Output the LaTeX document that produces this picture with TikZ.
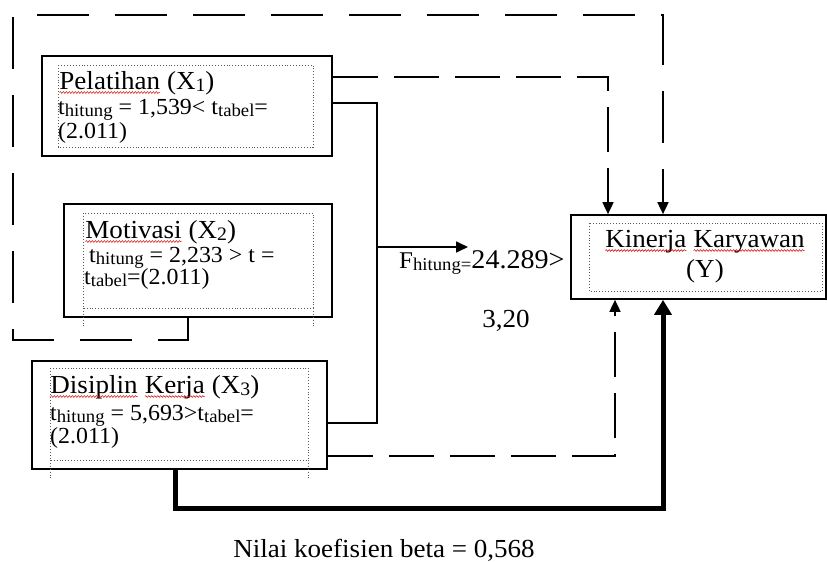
\documentclass[tikz,border=0pt]{standalone}
\usepackage{fontspec}
\setmainfont{Liberation Serif}[FakeStretch=1.04]
\usetikzlibrary{arrows.meta,calc,decorations.pathmorphing}
\newcommand\rw[1]{\tikz[baseline=(wd.base)]{\node[anchor=base,inner sep=0pt,outer sep=0pt,draw=none] (wd) at (0,0) {#1};
  \draw[red!85!black, line width=0.5pt, decorate, decoration={snake,amplitude=0.9pt,segment length=3pt}] ([yshift=-3.5pt]wd.base west) -- ([yshift=-3.5pt]wd.base east);}}
\newcommand\fs[1]{\fontsize{#1}{#1}\selectfont}
\newcommand\sbs[2]{\raisebox{-0.25ex}{\fs{#1}#2}}
\begin{document}
\begin{tikzpicture}[x=1pt,y=-1pt,
  box/.style={draw, line width=1.7pt, inner sep=0pt},
  inbox/.style={draw=black!65, dotted, line width=0.9pt},
  txt/.style={anchor=base west, inner sep=0pt},
  conn/.style={line width=1.7pt},
  dashA/.style={conn, dash pattern=on 45pt off 16pt},
  dashB/.style={conn, dash pattern=on 52pt off 26pt},
  thin tip/.style={-{Triangle[length=12pt,width=11pt]}},
  thick tip/.style={-{Triangle[length=15pt,width=17pt]}}]
\useasboundingbox (0,0) rectangle (827,562);
\fill[white] (0,0) rectangle (827,562);

% boxes
\node[box, minimum width=290pt, minimum height=100pt] (x1) at (187,106) {};
\node[box, minimum width=268pt, minimum height=113pt] (x2) at (198,260.5) {};
\node[box, minimum width=295pt, minimum height=108pt] (x3) at (179.5,415) {};
\node[box, minimum width=255pt, minimum height=84pt] (y) at (698.5,257) {};

% inner dotted frames
\draw[inbox] (58,65) rectangle (313,147);
\draw[inbox] (83,213) rectangle (313,308);
\draw[inbox] (83,308) -- (83,327) (313,308) -- (313,327);
\draw[inbox] (50,368) rectangle (308,460);
\draw[inbox] (50,460) -- (50,478) (308,460) -- (308,478);
\draw[inbox] (589,223) rectangle (822,291);

% texts X1
\node[txt, font=\fs{26}] (x1a) at (59,89) {\rw{Pelatihan} (X\sbs{19}{1})};
\node[txt, font=\fs{23}] (x1b) at (58,114) {t\sbs{18}{hitung} = 1,539< t\sbs{18}{tabel}=};
\node[txt, font=\fs{23}] (x1c) at (58,138) {(2.011)};
% texts X2
\node[txt, font=\fs{26}] (x2a) at (85,238) {\rw{Motivasi} (X\sbs{19}{2})};
\node[txt, font=\fs{23}] (x2b) at (89,262) {t\sbs{18}{hitung} = 2,233 > t =};
\node[txt, font=\fs{23}] (x2c) at (84,284) {t\sbs{18}{tabel}=(2.011)};
% texts X3
\node[txt, font=\fs{26}] (x3a) at (50,393) {\rw{Disiplin} \rw{Kerja} (X\sbs{19}{3})};
\node[txt, font=\fs{23}] (x3b) at (50,420) {t\sbs{18}{hitung} = 5,693>t\sbs{18}{tabel}=};
\node[txt, font=\fs{23}] (x3c) at (50,443) {(2.011)};
% texts Y
\node[anchor=base, inner sep=0pt, font=\fs{26}] (ya) at (705,247) {\rw{Kinerja} \rw{Karyawan}};
\node[anchor=base, inner sep=0pt, font=\fs{26}] (yb) at (705,277) {(Y)};

% X1 dashed to Y
\draw[dashA, thin tip] ([yshift=29pt]x1.east) -| ([xshift=-90.5pt]y.north);
% X2 dashed loop to Y
\draw[dashB, thin tip] ([xshift=-10pt]x2.south) -- ++(0,22) -| (13,15) -| ([xshift=-35.5pt]y.north);
% simultaneous bracket
\draw[conn] ([yshift=3pt]x1.east) -| (377,263) |- ([yshift=-8pt]x3.east);
\coordinate (fj) at (377,247);
\coordinate (fe) at (468,247);
\draw[conn, thin tip] (fj) -- (fe);
\node[txt] (flab) at (399,268) {\fs{24}F\sbs{18}{hitung=}\fs{27}24.289>};
\node[anchor=base, inner sep=0pt, font=\fs{26}] (f2) at (506,327) {3,20};
% X3 dashed to Y
\draw[dashA, thin tip] ([yshift=-41pt]x3.east) -| ([xshift=-83.5pt]y.south);
% X3 thick to Y
\draw[line width=5pt, thick tip] ([xshift=-4.5pt]x3.south) -- ++(0,39) -| ([xshift=-35.5pt]y.south);
\node[anchor=base, inner sep=0pt, font=\fs{26}] (beta) at (384,557) {Nilai koefisien beta = 0,568};
\end{tikzpicture}
\end{document}
